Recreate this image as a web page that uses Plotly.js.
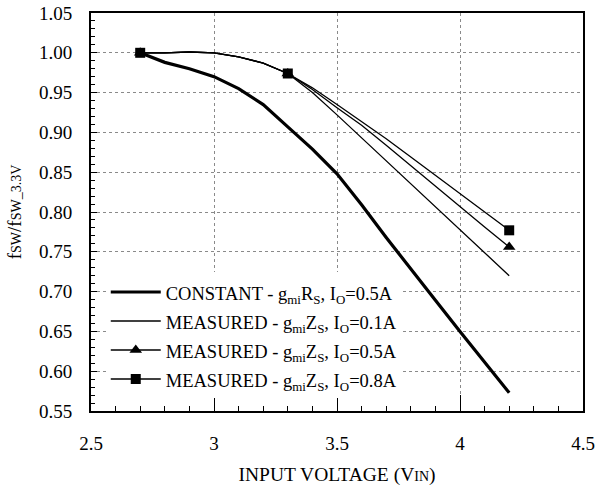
<!DOCTYPE html>
<html>
<head>
<meta charset="utf-8">
<script src="https://cdn.plot.ly/plotly-3.0.1.min.js"></script>
<style>html,body{margin:0;padding:0;background:#fff;}</style>
</head>
<body>
<div id="chart" style="width:596px;height:491px;"></div>
<script>
// ---- data ----
const vin = [2.7, 2.8, 2.9, 3.0, 3.1, 3.2, 3.3, 3.4, 3.5, 3.6, 3.7, 3.8, 3.9, 4.0, 4.1, 4.2];
const constantRs05 = [1.000, 0.988, 0.980, 0.970, 0.955, 0.935, 0.907, 0.879, 0.848, 0.809, 0.768, 0.728, 0.689, 0.650, 0.611, 0.573];
const measuredZs01 = [1.000, 1.000, 1.001, 1.000, 0.995, 0.987, 0.974, 0.950, 0.922, 0.893, 0.864, 0.835, 0.806, 0.777, 0.748, 0.720];
const measuredZs05 = [1.000, 1.000, 1.001, 1.000, 0.995, 0.987, 0.974, 0.954, 0.931, 0.909, 0.884, 0.858, 0.832, 0.806, 0.781, 0.756];
const measuredZs08 = [1.000, 1.000, 1.001, 1.000, 0.995, 0.987, 0.974, 0.956, 0.935, 0.914, 0.892, 0.869, 0.846, 0.823, 0.800, 0.777];
const markerVin = [2.7, 3.3, 4.2];
const seriesNames = [
  "CONSTANT - g<sub>mi</sub>R<sub>S</sub>, I<sub>O</sub>=0.5A",
  "MEASURED - g<sub>mi</sub>Z<sub>S</sub>, I<sub>O</sub>=0.1A",
  "MEASURED - g<sub>mi</sub>Z<sub>S</sub>, I<sub>O</sub>=0.5A",
  "MEASURED - g<sub>mi</sub>Z<sub>S</sub>, I<sub>O</sub>=0.8A"
];
const yTitle = "f<span style='font-size:14px'>SW</span>/f<span style='font-size:14px'>SW_3.3V</span>";
const xTitle = "INPUT VOLTAGE (V<span style='font-size:14px'>IN</span>)";

// ---- styling ----
const FONT = "Liberation Serif";
const markColors = vin.map(v => markerVin.includes(v) ? "#000" : "rgba(0,0,0,0)");
const legendText = s => "<span style='font-size:18.5px'>" + s + "</span>";

const traces = [
  {x: vin, y: constantRs05, name: legendText(seriesNames[0]), mode: "lines",
   line: {color: "#000", width: 3.2}},
  {x: vin, y: measuredZs01, name: legendText(seriesNames[1]), mode: "lines",
   line: {color: "#000", width: 1.3}},
  {x: vin, y: measuredZs05, name: legendText(seriesNames[2]), mode: "lines+markers",
   line: {color: "#000", width: 1.3},
   marker: {symbol: "triangle-up", size: 11, color: markColors, line: {width: 0}}},
  {x: vin, y: measuredZs08, name: legendText(seriesNames[3]), mode: "lines+markers",
   line: {color: "#000", width: 1.3},
   marker: {symbol: "square", size: 10, color: markColors, line: {width: 0}}}
];

const layout = {
  width: 596, height: 491,
  margin: {l: 91, r: 13, t: 13, b: 80},
  paper_bgcolor: "#fff", plot_bgcolor: "#fff",
  font: {family: FONT, color: "#000", size: 18},
  showlegend: true,
  legend: {
    x: 0.03, y: 0.348, xanchor: "left", yanchor: "top",
    bgcolor: "#fff", borderwidth: 0,
    font: {family: FONT, size: 20, color: "#000"},
    itemwidth: 50, traceorder: "normal"
  },
  xaxis: {
    range: [2.5, 4.5], tick0: 2.5, dtick: 0.5,
    ticks: "inside", ticklen: 16, tickwidth: 1, tickcolor: "#000",
    showline: true, linewidth: 2, linecolor: "#000", mirror: true,
    showgrid: true, gridcolor: "#8a8a8a", griddash: "dot", gridwidth: 1,
    zeroline: false,
    minor: {dtick: 0.1, ticks: "inside", ticklen: 5, tickwidth: 1, tickcolor: "#000", showgrid: false},
    tickfont: {family: FONT, size: 19},
    ticklabelstandoff: 14,
    title: {text: xTitle, font: {family: FONT, size: 19.5}, standoff: 15}
  },
  yaxis: {
    range: [0.55, 1.05], tick0: 0.55, dtick: 0.05, tickformat: ".2f",
    ticks: "inside", ticklen: 6, tickwidth: 1, tickcolor: "#000",
    showline: true, linewidth: 2, linecolor: "#000", mirror: true,
    showgrid: true, gridcolor: "#8a8a8a", griddash: "dot", gridwidth: 1,
    zeroline: false,
    minor: {dtick: 0.01, ticks: "inside", ticklen: 4, tickwidth: 1, tickcolor: "#000", showgrid: false},
    tickfont: {family: FONT, size: 19},
    ticklabelstandoff: 13,
    title: {text: yTitle, font: {family: FONT, size: 19}, standoff: 12}
  }
};

Plotly.newPlot("chart", traces, layout, {displayModeBar: false, staticPlot: true});
</script>
</body>
</html>
